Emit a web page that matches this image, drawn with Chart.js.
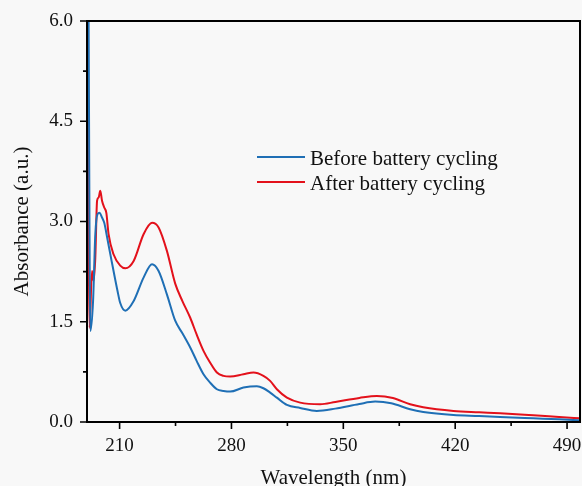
<!DOCTYPE html>
<html>
<head>
<meta charset="utf-8">
<script src="https://cdn.jsdelivr.net/npm/chart.js@4.4.1/dist/chart.umd.min.js"></script>
<style>
    html, body { margin: 0; padding: 0; background: #f8f8f8; }
</style>
</head>
<body>
<canvas id="uvChart" width="582" height="486"></canvas>
<script>
const seriesLabels = ['Before battery cycling', 'After battery cycling'];
const seriesColors = ['#1f6fb5', '#e3111b'];

// Before battery cycling (blue)
const beforeX = [190.5, 191.7, 193.4, 194.8, 196.2, 197.5, 199.0, 200.4, 202.3, 204.6, 208.7, 210.4, 213.6,
    218.8, 225.0, 230.3, 234.4, 239.6, 244.8, 249.5, 254.2, 258.2, 262.5, 266.6, 270.9, 275.0, 279.2,
    287.5, 295.9, 300.0, 304.2, 308.4, 314.7, 323.0, 333.4, 345.0, 360.0, 369.9, 380.0, 391.8, 400.0,
    418.9, 435.0, 448.1, 468.9, 485.0, 498.1];
const beforeY = [6.5, 1.36, 1.81, 2.81, 3.11, 3.13, 3.06, 2.98, 2.75, 2.46, 1.96, 1.78, 1.665,
    1.81, 2.16, 2.36, 2.26, 1.91, 1.515, 1.32, 1.115, 0.915, 0.715, 0.59, 0.49, 0.465, 0.455,
    0.515, 0.535, 0.505, 0.44, 0.365, 0.255, 0.21, 0.165, 0.20, 0.27, 0.305, 0.28, 0.19, 0.15,
    0.105, 0.09, 0.075, 0.055, 0.04, 0.025];

// After battery cycling (red)
const afterX = [189.9, 191.2, 192.7, 193.7, 194.8, 195.9, 196.9, 197.9, 199.0, 200.4, 201.7, 203.1, 206.2,
    210.4, 213.6, 218.8, 225.0, 230.3, 234.4, 239.6, 244.8, 249.3, 254.2, 258.2, 262.5, 266.6, 270.9,
    275.0, 279.2, 287.5, 293.8, 300.0, 304.2, 308.4, 314.7, 323.0, 335.5, 345.0, 360.0, 371.0, 381.0,
    391.8, 400.0, 418.9, 435.0, 448.1, 468.9, 485.0, 498.1];
const afterY = [6.5, 1.41, 2.26, 2.11, 2.46, 3.31, 3.36, 3.46, 3.31, 3.21, 3.13, 2.81, 2.51,
    2.34, 2.30, 2.41, 2.81, 2.98, 2.91, 2.56, 2.07, 1.81, 1.56, 1.31, 1.065, 0.89, 0.74,
    0.69, 0.68, 0.715, 0.74, 0.69, 0.615, 0.49, 0.365, 0.29, 0.265, 0.30, 0.36, 0.39, 0.36,
    0.265, 0.22, 0.165, 0.145, 0.13, 0.10, 0.075, 0.055];

const xMajor = [210, 280, 350, 420, 490];
const xMinor = [245, 315, 385, 455];
const yMajor = [0, 1.5, 3.0, 4.5, 6.0];
const yMinor = [0.75, 2.25, 3.75, 5.25];

const fontFamily = '"Liberation Serif", "Times New Roman", serif';

function toPoints(xs, ys) {
    return xs.map((v, i) => ({ x: v, y: ys[i] }));
}

// box frame, outward ticks and the legend
const framePlugin = {
    id: 'frame',
    afterDatasetsDraw(chart) {
        const ctx = chart.ctx;
        const a = chart.chartArea;
        const x = chart.scales.x;
        const y = chart.scales.y;
        ctx.save();
        ctx.strokeStyle = '#000';
        ctx.lineWidth = 2;
        ctx.strokeRect(a.left, a.top, a.right - a.left, a.bottom - a.top);

        ctx.lineWidth = 1.6;
        ctx.beginPath();
        xMajor.forEach(v => { const p = x.getPixelForValue(v); ctx.moveTo(p, a.bottom); ctx.lineTo(p, a.bottom + 7); });
        xMinor.forEach(v => { const p = x.getPixelForValue(v); ctx.moveTo(p, a.bottom); ctx.lineTo(p, a.bottom + 4); });
        yMajor.forEach(v => { const p = y.getPixelForValue(v); ctx.moveTo(a.left, p); ctx.lineTo(a.left - 7, p); });
        yMinor.forEach(v => { const p = y.getPixelForValue(v); ctx.moveTo(a.left, p); ctx.lineTo(a.left - 4, p); });
        ctx.stroke();

        // legend
        ctx.font = '21px ' + fontFamily;
        ctx.textBaseline = 'alphabetic';
        ctx.textAlign = 'left';
        chart.data.datasets.forEach((ds, i) => {
            const ly = 157 + i * 25;
            ctx.strokeStyle = ds.borderColor;
            ctx.lineWidth = 2;
            ctx.beginPath();
            ctx.moveTo(257, ly);
            ctx.lineTo(305, ly);
            ctx.stroke();
            ctx.fillStyle = '#111';
            ctx.fillText(ds.label, 310, ly + 8);
        });
        ctx.restore();
    }
};

new Chart(document.getElementById('uvChart'), {
    type: 'line',
    data: {
        datasets: [{
            label: seriesLabels[0],
            data: toPoints(beforeX, beforeY),
            borderColor: seriesColors[0],
            borderWidth: 2,
            pointRadius: 0,
            cubicInterpolationMode: 'monotone'
        }, {
            label: seriesLabels[1],
            data: toPoints(afterX, afterY),
            borderColor: seriesColors[1],
            borderWidth: 2,
            pointRadius: 0,
            cubicInterpolationMode: 'monotone'
        }]
    },
    options: {
        responsive: false,
        animation: false,
        layout: { padding: { left: 0, top: 21, right: 2, bottom: 0 } },
        plugins: {
            legend: { display: false },
            tooltip: { enabled: false }
        },
        scales: {
            x: {
                type: 'linear',
                min: 189.6,
                max: 498.1,
                grid: { display: false, drawTicks: false },
                border: { display: false },
                afterBuildTicks: scale => { scale.ticks = xMajor.map(v => ({ value: v })); },
                afterFit: scale => {
                    scale.height = 64;
                    scale.paddingLeft = 0;
                    scale.paddingRight = 0;
                },
                ticks: {
                    autoSkip: false,
                    maxRotation: 0,
                    padding: 13,
                    color: '#111',
                    font: { family: fontFamily, size: 19 },
                    callback: v => String(v)
                },
                title: {
                    display: true,
                    text: 'Wavelength (nm)',
                    color: '#111',
                    font: { family: fontFamily, size: 21, lineHeight: 1 },
                    padding: { top: 0, bottom: -3 }
                }
            },
            y: {
                type: 'linear',
                min: 0,
                max: 6,
                grid: { display: false, drawTicks: false },
                border: { display: false },
                afterBuildTicks: scale => { scale.ticks = yMajor.map(v => ({ value: v })); },
                afterFit: scale => {
                    scale.width = 87;
                    scale.paddingTop = 0;
                    scale.paddingBottom = 0;
                },
                ticks: {
                    padding: 14,
                    color: '#111',
                    font: { family: fontFamily, size: 19 },
                    callback: v => v.toFixed(1)
                },
                title: {
                    display: true,
                    text: 'Absorbance (a.u.)',
                    color: '#111',
                    font: { family: fontFamily, size: 21, lineHeight: 1 },
                    padding: { top: 12, bottom: 0 }
                }
            }
        }
    },
    plugins: [framePlugin]
});
</script>
</body>
</html>
